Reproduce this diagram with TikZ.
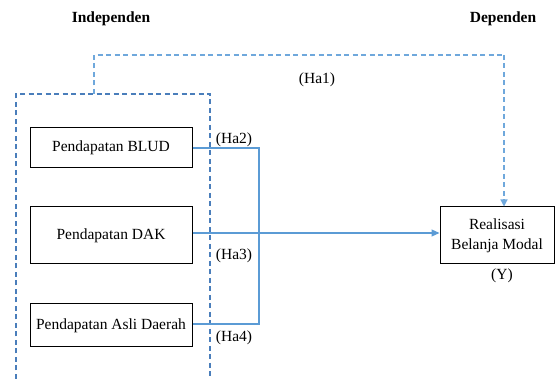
\documentclass[tikz,border=0pt]{standalone}
\usepackage{fontspec}
\setmainfont{Liberation Serif}
\usetikzlibrary{arrows.meta}
\definecolor{boxdash}{HTML}{4A7EBB}
\definecolor{hadash}{HTML}{6FA8DC}
\definecolor{solidblue}{HTML}{5B9BD5}
\tikzset{
  varbox/.style={draw=black, line width=1pt, minimum width=162pt, inner sep=0pt, font=\fontsize{15.5}{20}\selectfont},
  lbl/.style={inner sep=0pt, font=\fontsize{15.5}{20}\selectfont},
  hdr/.style={inner sep=0pt, font=\fontsize{15.5}{20}\selectfont\bfseries},
  grpdash/.style={draw=boxdash, line width=1.2pt, dash pattern=on 5pt off 3.5pt},
  ha1dash/.style={draw=hadash, line width=1.2pt, dash pattern=on 5pt off 3.5pt},
  link/.style={draw=solidblue, line width=1.6pt},
  arr/.style={draw=solidblue, line width=1.2pt, -{Triangle[length=8pt,width=7pt]}}
}
\begin{document}
\begin{tikzpicture}[x=1pt,y=-1pt]
\useasboundingbox (0,0) rectangle (555,379);
% headers
\node[hdr] (indep) at (111,19) {Independen};
\node[hdr] (dep) at (503,19) {Dependen};
% group dashed box (open at bottom)
\coordinate (gbl) at (16,379);
\coordinate (gtl) at (16,94);
\coordinate (gtr) at (210,94);
\coordinate (gbr) at (210,379);
\draw[grpdash] (gbl) -- (gtl) -- (gtr) -- (gbr);
% boxes
\node[varbox, minimum height=40pt] (blud) at (111,148) {Pendapatan BLUD};
\node[varbox, minimum height=57pt] (dak) at (111,235.5) {Pendapatan DAK};
\node[varbox, minimum height=43pt] (pad) at (111,325.5) {Pendapatan Asli Daerah};
\node[varbox, minimum width=114pt, minimum height=57pt, align=center] (y) at (497,235.5) {Realisasi\\Belanja Modal};
\node[lbl] (ylbl) at (502,276) {(Y)};
% Ha1 dashed path
\coordinate (h1a) at (94,94);
\coordinate (h1b) at (94,55);
\coordinate (h1c) at (504,55);
\draw[ha1dash] (h1a) -- (h1b) -- (h1c);
\draw[ha1dash, -{Triangle[length=7pt,width=7pt]}] (h1c) -- (y.north -| h1c);
\node[lbl] (ha1) at (317,80) {(Ha1)};
% solid links
\coordinate (jt) at (259,148);
\coordinate (jb) at (259,324);
\draw[link] (blud.east) -- (jt) -- (jb) -- (pad.east |- jb);
\draw[arr] (dak.east |- 0,233) -- (y.west |- 0,233);
% labels
\node[lbl] (ha2) at (234,140) {(Ha2)};
\node[lbl] (ha3) at (234,256) {(Ha3)};
\node[lbl] (ha4) at (234,338) {(Ha4)};
\end{tikzpicture}
\end{document}
